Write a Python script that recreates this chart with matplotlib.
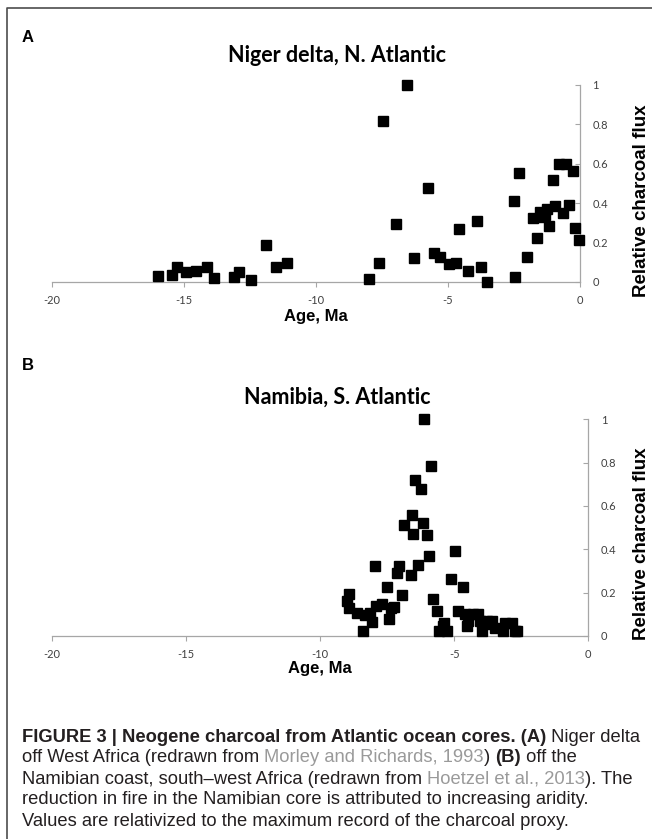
import matplotlib
matplotlib.use("Agg")
import matplotlib.pyplot as plt
from matplotlib import font_manager
from matplotlib.lines import Line2D

# Data: panel A, Niger delta (age in Ma, relative charcoal flux)
niger_age = [-15.96, -15.44, -15.27, -14.91, -14.55, -14.1, -13.85, -13.08, -12.9, -12.44,
             -11.89, -11.5, -11.1,
             -7.98, -7.6, -7.46, -6.97, -6.53, -6.28, -5.75, -5.52, -5.29, -4.94, -4.69,
             -4.56, -4.22, -3.9, -3.75, -3.52,
             -2.48, -2.45, -2.29, -2.01, -1.76, -1.63, -1.5, -1.44, -1.31, -1.25, -1.15,
             -1.0, -0.94, -0.77, -0.62, -0.52, -0.39, -0.24, -0.18, -0.02]
niger_val = [0.03, 0.035, 0.078, 0.052, 0.057, 0.078, 0.022, 0.027, 0.049, 0.01,
             0.19, 0.075, 0.095,
             0.015, 0.098, 0.817, 0.294, 1.0, 0.123, 0.479, 0.146, 0.128, 0.09, 0.095,
             0.267, 0.056, 0.31, 0.078, 0.0,
             0.413, 0.027, 0.555, 0.128, 0.323, 0.222, 0.357, 0.33, 0.34, 0.37, 0.286,
             0.52, 0.386, 0.6, 0.349, 0.6, 0.39, 0.565, 0.272, 0.213]

# Data: panel B, Namibia
nam_age = [-9.0, -8.92, -8.92, -8.64, -8.4, -8.33, -8.15, -8.05, -7.96, -7.9,
           -7.71, -7.49, -7.43, -7.34, -7.25, -7.15, -7.05, -6.94, -6.87, -6.62,
           -6.56, -6.55, -6.45, -6.34, -6.24, -6.16, -6.12, -6.0, -5.94, -5.87,
           -5.81, -5.63, -5.56, -5.41, -5.37, -5.28, -5.12, -4.97, -4.85, -4.69,
           -4.6, -4.54, -4.48, -4.29, -4.1, -4.04, -3.98, -3.79, -3.67, -3.6,
           -3.48, -3.17, -3.11, -2.86, -2.73, -2.67]
nam_val = [0.16, 0.193, 0.131, 0.108, 0.023, 0.097, 0.108, 0.066, 0.321, 0.139,
           0.147, 0.227, 0.077, 0.131, 0.136, 0.293, 0.325, 0.19, 0.513, 0.283,
           0.56, 0.47, 0.72, 0.329, 0.68, 0.52, 1.0, 0.464, 0.368, 0.785,
           0.17, 0.116, 0.023, 0.046, 0.062, 0.023, 0.263, 0.394, 0.116, 0.227,
           0.1, 0.046, 0.07, 0.1, 0.1, 0.07, 0.023, 0.07, 0.054, 0.07,
           0.039, 0.023, 0.062, 0.062, 0.023, 0.023]

x_ticks = [-20, -15, -10, -5, 0]
y_ticks = [0, 0.2, 0.4, 0.6, 0.8, 1]
y_ticklabels = ["0", "0.2", "0.4", "0.6", "0.8", "1"]

W, H = 652, 839
names = {f.name for f in font_manager.fontManager.ttflist}
cap_font = "Liberation Sans Narrow" if "Liberation Sans Narrow" in names else "Liberation Sans"

fig = plt.figure(figsize=(W / 100, H / 100), dpi=100)


def px(x, y):
    return x / W, 1 - y / H


def panel(rect_px, ages, vals, title, title_y, letter, letter_y, age_y, ylab_y):
    left, top, right, bottom = rect_px
    ax = fig.add_axes([left / W, 1 - bottom / H, (right - left) / W, (bottom - top) / H])
    ax.plot(ages, vals, "s", color="black", ms=6.8, clip_on=False, zorder=3)
    ax.set_xlim(-20, 0)
    ax.set_ylim(0, 1)
    for s in ["left", "top"]:
        ax.spines[s].set_visible(False)
    for s in ["bottom", "right"]:
        ax.spines[s].set_color("#a6a6a6")
        ax.spines[s].set_linewidth(0.9)
    ax.yaxis.tick_right()
    ax.set_xticks(x_ticks)
    ax.set_xticklabels([str(t) for t in x_ticks])
    ax.set_yticks(y_ticks)
    ax.set_yticklabels(y_ticklabels)
    ax.tick_params(axis="x", direction="out", length=3.5, color="#a6a6a6", pad=6,
                   labelsize=8, labelcolor="#404040")
    ax.tick_params(axis="y", direction="in", length=3.5, color="#a6a6a6", pad=9,
                   labelsize=8, labelcolor="#404040")
    for lab in ax.get_xticklabels() + ax.get_yticklabels():
        lab.set_fontfamily("Lato")
    cx = (left + right) / 2
    fig.text(*px(337, title_y), title, ha="center", va="center", fontsize=15.5,
             fontweight="bold", family="Lato")
    fig.text(*px(22, letter_y), letter, ha="left", va="center", fontsize=12,
             fontweight="bold", family="Liberation Sans")
    fig.text(*px(cx, age_y), "Age, Ma", ha="center", va="center", fontsize=12,
             fontweight="bold", family="Liberation Sans")
    fig.text(*px(641, ylab_y), "Relative charcoal flux", ha="center", va="center",
             rotation=90, fontsize=13.5, fontweight="bold", family="Liberation Sans")
    return ax


panel((51.7, 85, 579.7, 282), niger_age, niger_val, "Niger delta, N. Atlantic",
      55, "A", 38, 317, 201)
panel((52, 419.3, 588.3, 636), nam_age, nam_val, "Namibia, S. Atlantic",
      397, "B", 366, 668, 544)

# Frame lines of the figure box
fig.add_artist(Line2D([6.5 / W, 6.5 / W, 1], [0, 1 - 8 / H, 1 - 8 / H],
                      transform=fig.transFigure, color="#4d4d4d", lw=1.2))

# Caption, assembled piece by piece
dark, grey = "#231f20", "#9a9a9a"
caption = [
    [("FIGURE 3 | Neogene charcoal from Atlantic ocean cores. (A)", "bold", dark),
     (" Niger delta", "normal", dark)],
    [("off West Africa (redrawn from ", "normal", dark),
     ("Morley and Richards, 1993", "normal", grey),
     (") ", "normal", dark), ("(B)", "bold", dark), (" off the", "normal", dark)],
    [("Namibian coast, south\u2013west Africa (redrawn from ", "normal", dark),
     ("Hoetzel et al., 2013", "normal", grey), ("). The", "normal", dark)],
    [("reduction in fire in the Namibian core is attributed to increasing aridity.",
      "normal", dark)],
    [("Values are relativized to the maximum record of the charcoal proxy.",
      "normal", dark)],
]
line_y = [737, 758, 779, 800, 821]

renderer = fig.canvas.get_renderer()
# size the caption so the first line spans the same width as in the original
probe_w = 0
for txt, wt, col in caption[0]:
    p = fig.text(0, 0, txt, fontsize=10, fontweight=wt, family=cap_font)
    probe_w += p.get_window_extent(renderer).width
    p.remove()
cap_size = 10 * 616 / probe_w

for pieces, yy in zip(caption, line_y):
    x = 22
    for txt, wt, col in pieces:
        t = fig.text(*px(x, yy), txt, ha="left", va="center", fontsize=cap_size,
                     fontweight=wt, color=col, family=cap_font)
        x += t.get_window_extent(renderer).width

fig.savefig("out.png", dpi=100)
